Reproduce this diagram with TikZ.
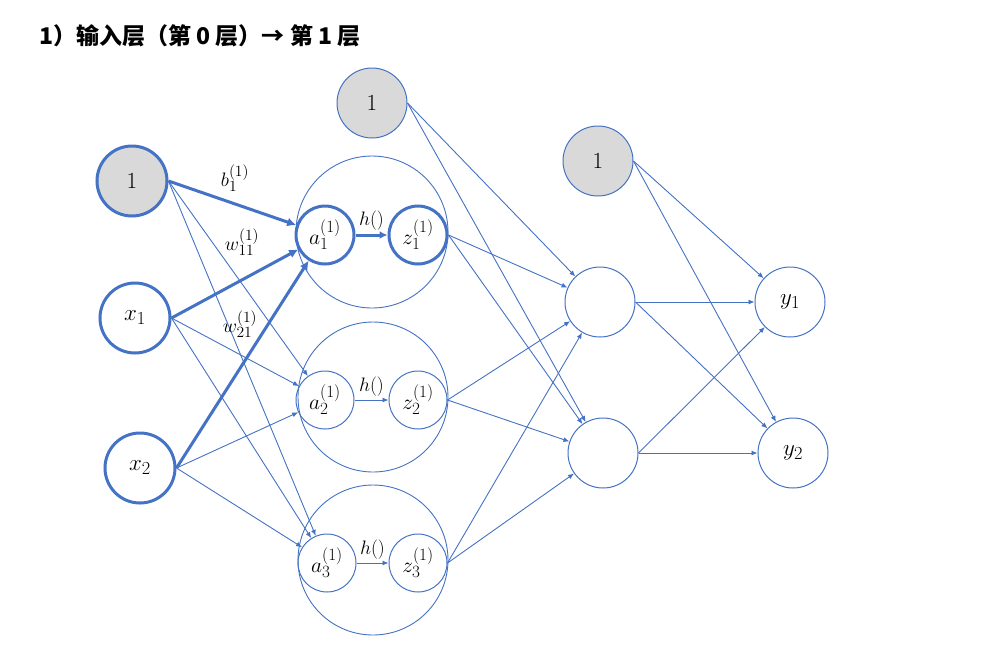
\RequirePackage{fix-cm}
\documentclass[tikz,border=0pt]{standalone}
\usepackage{fontspec}
\newfontfamily\cjk{Noto Sans CJK SC}
\usetikzlibrary{arrows.meta}
\definecolor{nblue}{HTML}{4472C4}
\definecolor{ngray}{HTML}{D9D9D9}
\def\defaultscriptratio{.8}
\def\defaultscriptscriptratio{.6}
\begin{document}
\begin{tikzpicture}[x=1pt,y=-1pt,
  every node/.style={inner sep=0pt},
  neuron/.style={circle, draw=nblue, line width=1pt, minimum size=70pt, font=\fontsize{23}{25}\selectfont},
  thickn/.style={line width=3pt},
  bias/.style={neuron, fill=ngray},
  innern/.style={circle, draw=nblue, line width=1pt, minimum size=58pt, font=\fontsize{21.5}{23}\selectfont},
  big/.style={circle, draw=nblue, line width=0.9pt, minimum size=150pt},
  edge/.style={draw=nblue, line width=0.9pt, -{Latex[length=6pt,width=5pt]}},
  thedge/.style={draw=nblue, line width=3pt, -{Latex[length=9pt,width=9pt]}},
  lab/.style={font=\fontsize{19.5}{21}\selectfont}
]
\useasboundingbox (0,0) rectangle (996,649);
\node[anchor=west, font=\cjk\bfseries\fontsize{23}{25}\selectfont] (title) at (39,36) {1）输入层（第 0 层）→ 第 1 层};

% big circles
\node[big, minimum size=152pt] (B1) at (372,232) {};
\node[big] (B2) at (373,397) {};
\node[big] (B3) at (373,560) {};

% input layer
\node[bias, thickn] (b0) at (132,181) {1};
\node[neuron, thickn] (x1) at (135,318) {$x_1$};
\node[neuron, thickn] (x2) at (140,468) {$x_2$};

% hidden layer 1
\node[innern, thickn] (a1) at (325,235) {$a_1^{(1)}$};
\node[innern, thickn] (z1) at (418,235) {$z_1^{(1)}$};
\node[innern] (a2) at (325,400) {$a_2^{(1)}$};
\node[innern] (z2) at (418,400) {$z_2^{(1)}$};
\node[innern] (a3) at (327,563) {$a_3^{(1)}$};
\node[innern] (z3) at (418,563) {$z_3^{(1)}$};
\node[bias] (b1) at (372,103) {1};

% hidden layer 2
\node[bias] (b2) at (598,161) {1};
\node[neuron] (h1) at (600,302) {};
\node[neuron] (h2) at (603,453) {};

% output
\node[neuron] (y1) at (790,302) {$y_1$};
\node[neuron] (y2) at (793,453) {$y_2$};

% input -> hidden1
\draw[thedge] (b0.east) -- (a1);
\draw[thedge] (x1.east) -- (a1);
\draw[thedge] (x2.east) -- (a1);
\draw[edge] (b0.east) -- (a2);
\draw[edge] (b0.east) -- (a3);
\draw[edge] (x1.east) -- (a2);
\draw[edge] (x1.east) -- (a3);
\draw[edge] (x2.east) -- (a2);
\draw[edge] (x2.east) -- (a3);

\node[lab] (lb) at (235,178) {$b_1^{(1)}$};
\node[lab] (lw11) at (242,242) {$w_{11}^{(1)}$};
\node[lab] (lw21) at (240,324) {$w_{21}^{(1)}$};

% a -> z
\draw[thedge, -{Latex[length=8pt,width=8pt]}] (a1) -- node[lab, above=3pt] (h1l) {$h()$} (z1);
\draw[edge] (a2) -- node[lab, above=3pt] (h2l) {$h()$} (z2);
\draw[edge] (a3) -- node[lab, above=3pt] (h3l) {$h()$} (z3);

% hidden1 -> hidden2
\foreach \s in {z1,z2,z3,b1}{
  \draw[edge] (\s.east) -- (h1);
  \draw[edge] (\s.east) -- (h2);
}
% hidden2 -> output
\foreach \s in {h1,h2,b2}{
  \draw[edge] (\s.east) -- (y1);
  \draw[edge] (\s.east) -- (y2);
}
\end{tikzpicture}
\end{document}
